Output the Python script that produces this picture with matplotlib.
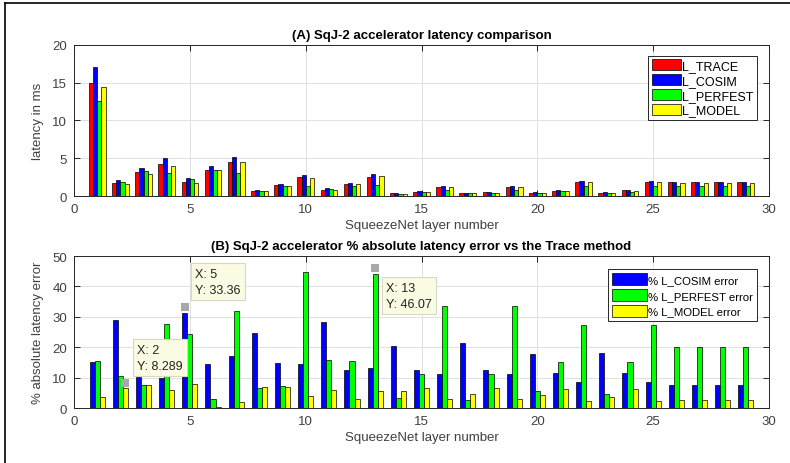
import matplotlib
matplotlib.use('Agg')
import matplotlib.pyplot as plt
from matplotlib.lines import Line2D
import numpy as np

plt.rcParams['font.family'] = ['Liberation Sans', 'DejaVu Sans']

layers = list(range(1, 30))

# (A) latency in ms
l_trace = [14.95, 1.67, 3.12, 4.18, 1.8, 3.43, 4.44, 0.7, 1.45, 2.46, 0.79, 1.54, 2.5, 0.35,
           0.5, 1.2, 0.35, 0.55, 1.2, 0.45, 0.7, 1.85, 0.45, 0.75, 1.85, 1.8, 1.8, 1.8, 1.8]
l_cosim = [17.14, 2.15, 3.74, 5.0, 2.37, 4.0, 5.23, 0.84, 1.63, 2.81, 1.0, 1.76, 2.86, 0.35,
           0.6, 1.3, 0.4, 0.55, 1.3, 0.55, 0.8, 2.0, 0.55, 0.8, 2.0, 1.8, 1.8, 1.8, 1.8]
l_perfest = [12.6, 1.8, 3.34, 3.08, 2.2, 3.38, 3.08, 0.7, 1.32, 1.36, 0.92, 1.36, 1.4, 0.3,
             0.5, 0.8, 0.35, 0.45, 0.8, 0.4, 0.6, 1.3, 0.45, 0.55, 1.3, 1.3, 1.3, 1.3, 1.3]
l_model = [14.37, 1.54, 2.9, 3.96, 1.67, 3.47, 4.48, 0.62, 1.32, 2.37, 0.75, 1.58, 2.68, 0.3,
           0.5, 1.15, 0.35, 0.45, 1.15, 0.4, 0.65, 1.8, 0.4, 0.65, 1.8, 1.7, 1.7, 1.7, 1.7]

# (B) % absolute latency error
err_cosim = [15.2, 29.1, 10.1, 10.0, 31.4, 14.5, 17.1, 24.8, 14.7, 14.4, 28.4, 12.4, 13.1, 20.5,
             12.4, 11.1, 21.3, 12.4, 11.1, 17.8, 11.5, 8.7, 18.1, 11.5, 8.7, 7.7, 7.7, 7.7, 7.7]
err_perfest = [15.6, 10.5, 7.6, 27.5, 24.2, 3.1, 31.8, 6.7, 7.3, 44.8, 15.9, 15.4, 44.1, 3.3,
               11.1, 33.4, 2.5, 11.1, 33.4, 5.5, 15.1, 27.4, 4.6, 15.1, 27.4, 20.2, 20.2, 20.2, 20.2]
err_model = [3.6, 6.6, 7.6, 5.8, 7.8, 0.2, 1.9, 6.9, 6.9, 4.1, 5.8, 2.9, 5.7, 5.5,
             6.7, 3.1, 4.6, 6.7, 3.1, 4.3, 6.3, 2.4, 3.6, 6.3, 2.4, 2.5, 2.5, 2.5, 2.5]

# data tips shown on panel B: (layer, series index, value, text position)
tip_x = [2, 5, 13]
tip_series = [2, 0, 1]
tip_y = [8.289, 33.36, 46.07]
tip_text_pos = [(2.72, 21.1), (5.22, 46.2), (13.47, 41.6)]

red, blue, green, yellow = '#ff0000', '#0000ff', '#00ff00', '#ffff00'
txt_col = '#262626'

fig = plt.figure(figsize=(7.9, 4.64), dpi=100)
ax1 = fig.add_axes([0.0937, 0.5754, 0.8797, 0.3255])
ax2 = fig.add_axes([0.0937, 0.1185, 0.8797, 0.3276])

x = np.array(layers)


def style(ax):
    ax.set_xlim(0, 30)
    ax.set_xticks(range(0, 31, 5))
    ax.grid(True, color='#e0e0e0', linewidth=0.7)
    ax.set_axisbelow(True)
    ax.tick_params(direction='in', top=True, right=True, length=4, width=0.7,
                   labelsize=9.5, colors=txt_col, labelcolor='#404040', pad=5)
    for s in ax.spines.values():
        s.set_color('#262626')
        s.set_linewidth(0.7)
    ax.set_xlabel('SqueezeNet layer number', fontsize=9.5, color='#404040', labelpad=3)


# panel A
w = 0.18
series_a = [(l_trace, red, 'L_TRACE'), (l_cosim, blue, 'L_COSIM'),
            (l_perfest, green, 'L_PERFEST'), (l_model, yellow, 'L_MODEL')]
for i, (vals, c, lab) in enumerate(series_a):
    ax1.bar(x + (i - 1.5) * w, vals, width=w, color=c, edgecolor='black',
            linewidth=0.5, label=lab)
style(ax1)
ax1.set_ylim(0, 20)
ax1.set_yticks(range(0, 21, 5))
ax1.set_ylabel('latency in ms', fontsize=9.5, color='#404040', labelpad=6)
ax1.set_title('(A) SqJ-2 accelerator latency comparison', fontsize=9.5,
              fontweight='bold', color='black', pad=5)
leg1 = ax1.legend(loc='upper right', bbox_to_anchor=(0.983, 0.93), fontsize=9,
                  fancybox=False, framealpha=1, edgecolor='#262626',
                  handlelength=2.3, handleheight=1.0, labelspacing=0.15,
                  handletextpad=0.1, borderpad=0.3, borderaxespad=0)
leg1.get_frame().set_linewidth(0.7)

# panel B
w2 = 0.22
series_b = [(err_cosim, blue, '% L_COSIM error'), (err_perfest, green, '% L_PERFEST error'),
            (err_model, yellow, '% L_MODEL error')]
for i, (vals, c, lab) in enumerate(series_b):
    ax2.bar(x + (i - 1) * w2, vals, width=w2, color=c, edgecolor='black',
            linewidth=0.5, label=lab)
style(ax2)
ax2.set_ylim(0, 50)
ax2.set_yticks(range(0, 51, 10))
ax2.set_ylabel('% absolute latency error', fontsize=9.5, color='#404040', labelpad=6)
ax2.set_title('(B) SqJ-2 accelerator % absolute latency error vs the Trace method',
              fontsize=9.5, fontweight='bold', color='black', pad=5)
leg2 = ax2.legend(loc='upper right', bbox_to_anchor=(0.983, 0.915), fontsize=8.2,
                  fancybox=False, framealpha=1, edgecolor='#262626',
                  handlelength=3.0, handleheight=1.3, labelspacing=0.3,
                  handletextpad=0.15, borderpad=0.35, borderaxespad=0)
leg2.get_frame().set_linewidth(0.7)

for tx, ts, ty, (px, py) in zip(tip_x, tip_series, tip_y, tip_text_pos):
    ax2.plot(tx + (ts - 1) * w2, ty, 's', color='#a8a8a8', markersize=6,
             markeredgewidth=0, zorder=5)
    ax2.text(px, py, 'X: %d\nY: %s' % (tx, ('%.4g' % ty)), fontsize=9, va='top',
             ha='left', color='#222222', linespacing=1.45, zorder=6,
             bbox=dict(boxstyle='square,pad=0.35', facecolor='#fbfbe4',
                       edgecolor='#d8d8c0', linewidth=0.8))

# outer frame lines of the screenshot
fig.add_artist(Line2D([5 / 790, 1], [1 - 4 / 464, 1 - 4 / 464], color='black',
                      linewidth=1.2, transform=fig.transFigure))
fig.add_artist(Line2D([5 / 790, 5 / 790], [0, 1 - 4 / 464], color='black',
                      linewidth=1.2, transform=fig.transFigure))

fig.savefig('out.png', dpi=100)
